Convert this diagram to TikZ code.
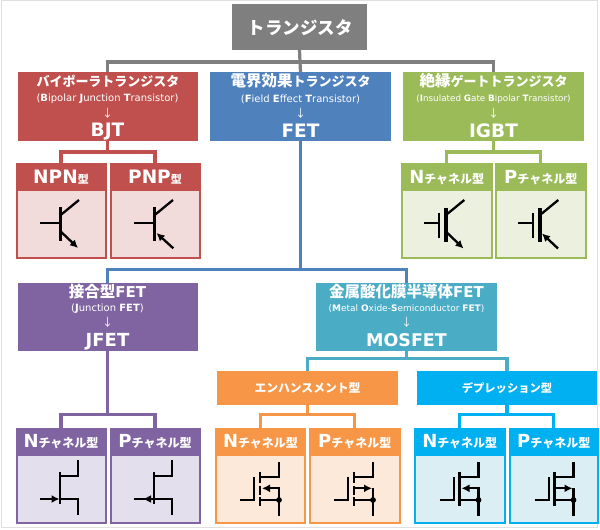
\documentclass[tikz,border=0pt]{standalone}
\usepackage{fontspec}
\usetikzlibrary{arrows.meta}
\setmainfont{DejaVu Sans}
\newfontfamily\jp{Noto Sans CJK JP}
\newcommand\fsz[1]{\fontsize{#1}{#1}\selectfont}
\newcommand\KJ[2]{{\jp\bfseries\fsz{#1}#2}}
\newcommand\Bo[1]{\textbf{#1}}
\definecolor{cgray}{HTML}{7F7F7F}
\definecolor{cred}{HTML}{C0504D}
\definecolor{cblue}{HTML}{4F81BD}
\definecolor{cgreen}{HTML}{9BBB59}
\definecolor{cpurple}{HTML}{8064A2}
\definecolor{cteal}{HTML}{4BACC6}
\definecolor{corange}{HTML}{F79646}
\definecolor{csky}{HTML}{00B0F0}
\definecolor{bred}{HTML}{F2DCDB}
\definecolor{bgreen}{HTML}{EBF1DE}
\definecolor{bpurple}{HTML}{E4DFEC}
\definecolor{borange}{HTML}{FDE9D9}
\definecolor{bsky}{HTML}{DBEEF4}
\tikzset{
  boxn/.style={inner sep=0pt,outer sep=0pt,rectangle,text=white},
  lbl/.style={inner sep=0pt,outer sep=0pt,text=white,anchor=center},
  conn/.style={line width=3.2pt,line cap=butt,line join=miter},
  sym/.style={line width=2.3pt,black,line cap=butt},
  symb/.style={line width=3.4pt,black,line cap=butt},
  arr/.style={-{Latex[length=8pt,width=8pt]}},
  pics/npnsym/.style={code={
    \draw[sym] (24,59.8)--(44.7,59.8);
    \draw[symb] (44.7,43.5)--(44.7,77.5);
    \draw[sym] (44.7,51.5)--(63,36.5);
    \draw[sym,arr] (44.7,68)--(62,84.5);
  }},
  pics/pnpsym/.style={code={
    \draw[sym] (24,59.8)--(44.7,59.8);
    \draw[symb] (44.7,43.5)--(44.7,77.5);
    \draw[sym] (44.7,51.5)--(63,36.5);
    \draw[sym,arr] (63.3,84.8)--(46.5,69.5);
  }},
  pics/igbtn/.style={code={
    \draw[sym] (22.5,59.8)--(37.8,59.8);
    \draw[sym] (37.8,49.2)--(37.8,74.8);
    \draw[symb] (44.5,44.2)--(44.5,78.2);
    \draw[sym] (44.5,51.5)--(62.8,36.5);
    \draw[sym,arr] (44.5,68.2)--(62,85);
  }},
  pics/igbtp/.style={code={
    \draw[sym] (22.5,59.8)--(37.8,59.8);
    \draw[sym] (37.8,49.2)--(37.8,74.8);
    \draw[symb] (44.5,44.2)--(44.5,78.2);
    \draw[sym] (44.5,51.5)--(62.8,36.5);
    \draw[sym,arr] (62.5,85)--(46.5,70);
  }},
  pics/jfetbody/.style={code={
    \draw[sym] (44,43.7)--(44,76);
    \draw[sym] (44,47.7)--(62.3,47.7);
    \draw[sym] (62.3,32)--(62.3,48.8);
    \draw[sym] (44,71)--(62.3,71);
    \draw[sym] (62.3,69.9)--(62.3,87);
  }},
  pics/jfetn/.style={code={
    \pic {jfetbody};
    \draw[sym,arr] (24,71)--(43.5,71);
  }},
  pics/jfetp/.style={code={
    \pic {jfetbody};
    \draw[sym] (24,71)--(44,71);
    \draw[sym,arr] (43,71)--(33,71);
  }},
  pics/mosbody/.style={code={
    \draw[sym] (24.5,72)--(38.8,72)--(38.8,48.7);
    \draw[sym] (44.5,48.7)--(63.5,48.7);
    \draw[sym] (63.5,34.3)--(63.5,49.8);
    \draw[sym] (63.5,60.3)--(63.5,88);
    \draw[sym] (44.5,72)--(63.5,72);
    \fill (63.5,72) circle (2.9);
  }},
  pics/channelgap/.style={code={
    \draw[sym] (44.5,44.3)--(44.5,55);
    \draw[sym] (44.5,57.7)--(44.5,67);
    \draw[sym] (44.5,69)--(44.5,77.7);
  }},
  pics/channelfull/.style={code={
    \draw[sym] (44.5,44.3)--(44.5,77.7);
  }},
  pics/arrowin/.style={code={
    \draw[sym] (64.6,60.3)--(54,60.3);
    \draw[sym,arr] (54,60.3)--(46.5,60.3);
  }},
  pics/arrowout/.style={code={
    \draw[sym] (44.5,60.3)--(54,60.3);
    \draw[sym,arr] (54,60.3)--(62.5,60.3);
  }},
}
% name, x1, x2, y1, y2, head colour, body colour, label
\newcommand\cardbox[8]{%
  \pgfmathsetmacro\cxx{(#2+#3)/2}%
  \pgfmathsetmacro\cww{#3-#2}%
  \pgfmathsetmacro\cyy{(#4+#5)/2}%
  \pgfmathsetmacro\chh{#5-#4}%
  \node[boxn,draw=#6,fill=#7,line width=2pt,minimum width=\cww pt,minimum height=\chh pt] (#1) at (\cxx,\cyy) {};
  \pgfmathsetmacro\hyy{#4+13.5}%
  \node[boxn,fill=#6,minimum width=\cww pt,minimum height=27pt] (#1head) at (\cxx,\hyy) {\raisebox{-1.6pt}{#8}};
}
\newcommand\Nch{{\fsz{18}\bfseries N}\KJ{12}{チャネル型}}
\newcommand\Pch{{\fsz{18}\bfseries P}\KJ{12}{チャネル型}}
\begin{document}
\begin{tikzpicture}[x=1pt,y=-1pt]
\useasboundingbox (0,0) rectangle (600,530);
\fill[white] (0,0) rectangle (600,530);
\draw[draw=black!12,line width=1pt,fill=white] (1,0.5) rectangle (597.5,527.5);

% connectors' junctions
\coordinate (jtop) at (300,62);
\coordinate (jbjt) at (107.75,152);
\coordinate (jigbt) at (493.5,152);
\coordinate (jfetc) at (300.5,269.5);
\coordinate (jj) at (107.75,414.5);
\coordinate (jmos) at (406.5,358.5);
\coordinate (jenh) at (307.5,414.5);
\coordinate (jdep) at (507,414.5);

% main boxes
\node[boxn,fill=cgray,minimum width=135pt,minimum height=46pt] (top) at (299.5,27) {};
\node[boxn,fill=cred,minimum width=180.5pt,minimum height=69pt] (bjt) at (107.75,106.5) {};
\node[boxn,fill=cblue,minimum width=181pt,minimum height=69pt] (fet) at (300.5,106.5) {};
\node[boxn,fill=cgreen,minimum width=181pt,minimum height=69pt] (igbt) at (493.5,106.5) {};
\node[boxn,fill=cpurple,minimum width=180.5pt,minimum height=68pt] (jfet) at (107.75,316.5) {};
\node[boxn,fill=cteal,minimum width=181pt,minimum height=68pt] (mos) at (406.5,316.5) {};
\node[boxn,fill=corange,minimum width=181pt,minimum height=34.5pt] (enh) at (307.5,388) {\KJ{11.8}{エンハンスメント型}};
\node[boxn,fill=csky,minimum width=180.5pt,minimum height=34.5pt] (dep) at (507,388) {\KJ{11.3}{デプレッション型}};

% cards
\cardbox{npn}{16.5}{105.5}{164}{258}{cred}{bred}{{\fsz{18.5}\bfseries NPN}\KJ{11}{型}}
\cardbox{pnp}{110.5}{199.5}{164}{258}{cred}{bred}{{\fsz{18.5}\bfseries PNP}\KJ{11}{型}}
\cardbox{ign}{402}{491.5}{164}{258}{cgreen}{bgreen}{\Nch}
\cardbox{igp}{496}{585.5}{164}{258}{cgreen}{bgreen}{\Pch}
\cardbox{jn}{16.5}{105.5}{428.5}{523}{cpurple}{bpurple}{\Nch}
\cardbox{jp}{110.5}{199.5}{428.5}{523}{cpurple}{bpurple}{\Pch}
\cardbox{en}{216}{305}{428.5}{523}{corange}{borange}{\Nch}
\cardbox{ep}{310}{399.5}{428.5}{523}{corange}{borange}{\Pch}
\cardbox{dn}{415}{504.5}{428.5}{523}{csky}{bsky}{\Nch}
\cardbox{dp}{509.5}{598}{428.5}{523}{csky}{bsky}{\Pch}

% connectors
\draw[conn,cgray] (top.south) -- (jtop);
\draw[conn,cgray] (jtop) -| (bjt.north);
\draw[conn,cgray] (jtop) -| (igbt.north);
\draw[conn,cgray] (jtop) -- (fet.north);
\draw[conn,cred] (bjt.south) -- (jbjt);
\draw[conn,cred] (jbjt) -| (npn.north);
\draw[conn,cred] (jbjt) -| (pnp.north);
\draw[conn,cgreen] (igbt.south) -- (jigbt);
\draw[conn,cgreen] (jigbt) -| (ign.north);
\draw[conn,cgreen] (jigbt) -| (igp.north);
\draw[conn,cblue] (fet.south) -- (jfetc);
\draw[conn,cblue] (jfetc) -| (jfet.north);
\draw[conn,cblue] (jfetc) -| (mos.north);
\draw[conn,cpurple] (jfet.south) -- (jj);
\draw[conn,cpurple] (jj) -| (jn.north);
\draw[conn,cpurple] (jj) -| (jp.north);
\draw[conn,cteal] (mos.south) -- (jmos);
\draw[conn,cteal] (jmos) -| (enh.north);
\draw[conn,cteal] (jmos) -| (dep.north);
\draw[conn,corange] (enh.south) -- (jenh);
\draw[conn,corange] (jenh) -| (en.north);
\draw[conn,corange] (jenh) -| (ep.north);
\draw[conn,csky] (dep.south) -- (jdep);
\draw[conn,csky] (jdep) -| (dn.north);
\draw[conn,csky] (jdep) -| (dp.north);

% texts
\node[lbl] (ttop) at (300,27.5) {\KJ{17.5}{トランジスタ}};

\node[lbl] (t1a) at (108,81) {\KJ{13}{バイポーラトランジスタ}};
\node[lbl] (t1b) at (107.5,99) {\fsz{10}(\Bo{B}ipolar \Bo{J}unction \Bo{T}ransistor)};
\node[lbl] (t1c) at (107.5,113) {{\jp\fsz{11}↓}};
\node[lbl] (t1d) at (107.5,132) {\fsz{18.5}\bfseries BJT};

\node[lbl] (t2a) at (300.5,81) {\KJ{15.5}{電界効果}\KJ{13}{トランジスタ}};
\node[lbl] (t2b) at (300.5,99) {\fsz{10}(\Bo{F}ield \Bo{E}ffect \Bo{T}ransistor)};
\node[lbl] (t2c) at (300.5,113) {{\jp\fsz{11}↓}};
\node[lbl] (t2d) at (300.5,131) {\fsz{18.5}\bfseries FET};

\node[lbl] (t3a) at (493.5,81) {\KJ{15.5}{絶縁}\KJ{13}{ゲートトランジスタ}};
\node[lbl] (t3b) at (493.5,99) {\fsz{8.8}(\Bo{I}nsulated \Bo{G}ate \Bo{B}ipolar \Bo{T}ransistor)};
\node[lbl] (t3c) at (493.5,113) {{\jp\fsz{11}↓}};
\node[lbl] (t3d) at (493.5,131) {\fsz{18.5}\bfseries IGBT};

\node[lbl] (t4a) at (107.5,291.5) {\KJ{15.5}{接合型}{\fsz{15}\bfseries FET}};
\node[lbl] (t4b) at (107.5,309) {\fsz{10}(\Bo{J}unction \Bo{FET})};
\node[lbl] (t4c) at (107.5,322) {{\jp\fsz{11}↓}};
\node[lbl] (t4d) at (107.5,341.5) {\fsz{18}\bfseries JFET};

\node[lbl] (t5a) at (406.5,291.5) {\KJ{15.5}{金属酸化膜半導体}{\fsz{15}\bfseries FET}};
\node[lbl] (t5b) at (406.5,309) {\fsz{9}(\Bo{M}etal \Bo{O}xide-\Bo{S}emiconductor \Bo{FET})};
\node[lbl] (t5c) at (406.5,322) {{\jp\fsz{11}↓}};
\node[lbl] (t5d) at (406.5,340) {\fsz{17.5}\bfseries MOSFET};

% symbols
\pic at (16,163.5) {npnsym};
\pic at (110,163.5) {pnpsym};
\pic at (401.5,163.5) {igbtn};
\pic at (495.5,163.5) {igbtp};
\pic at (16,428) {jfetn};
\pic at (110,428) {jfetp};
\pic at (215.5,428) {mosbody};
\pic at (215.5,428) {channelgap};
\pic at (215.5,428) {arrowin};
\pic at (309.5,428) {mosbody};
\pic at (309.5,428) {channelgap};
\pic at (309.5,428) {arrowout};
\pic at (415,428) {mosbody};
\pic at (415,428) {channelfull};
\pic at (415,428) {arrowin};
\pic at (510,428) {mosbody};
\pic at (510,428) {channelfull};
\pic at (510,428) {arrowout};
\end{tikzpicture}
\end{document}
